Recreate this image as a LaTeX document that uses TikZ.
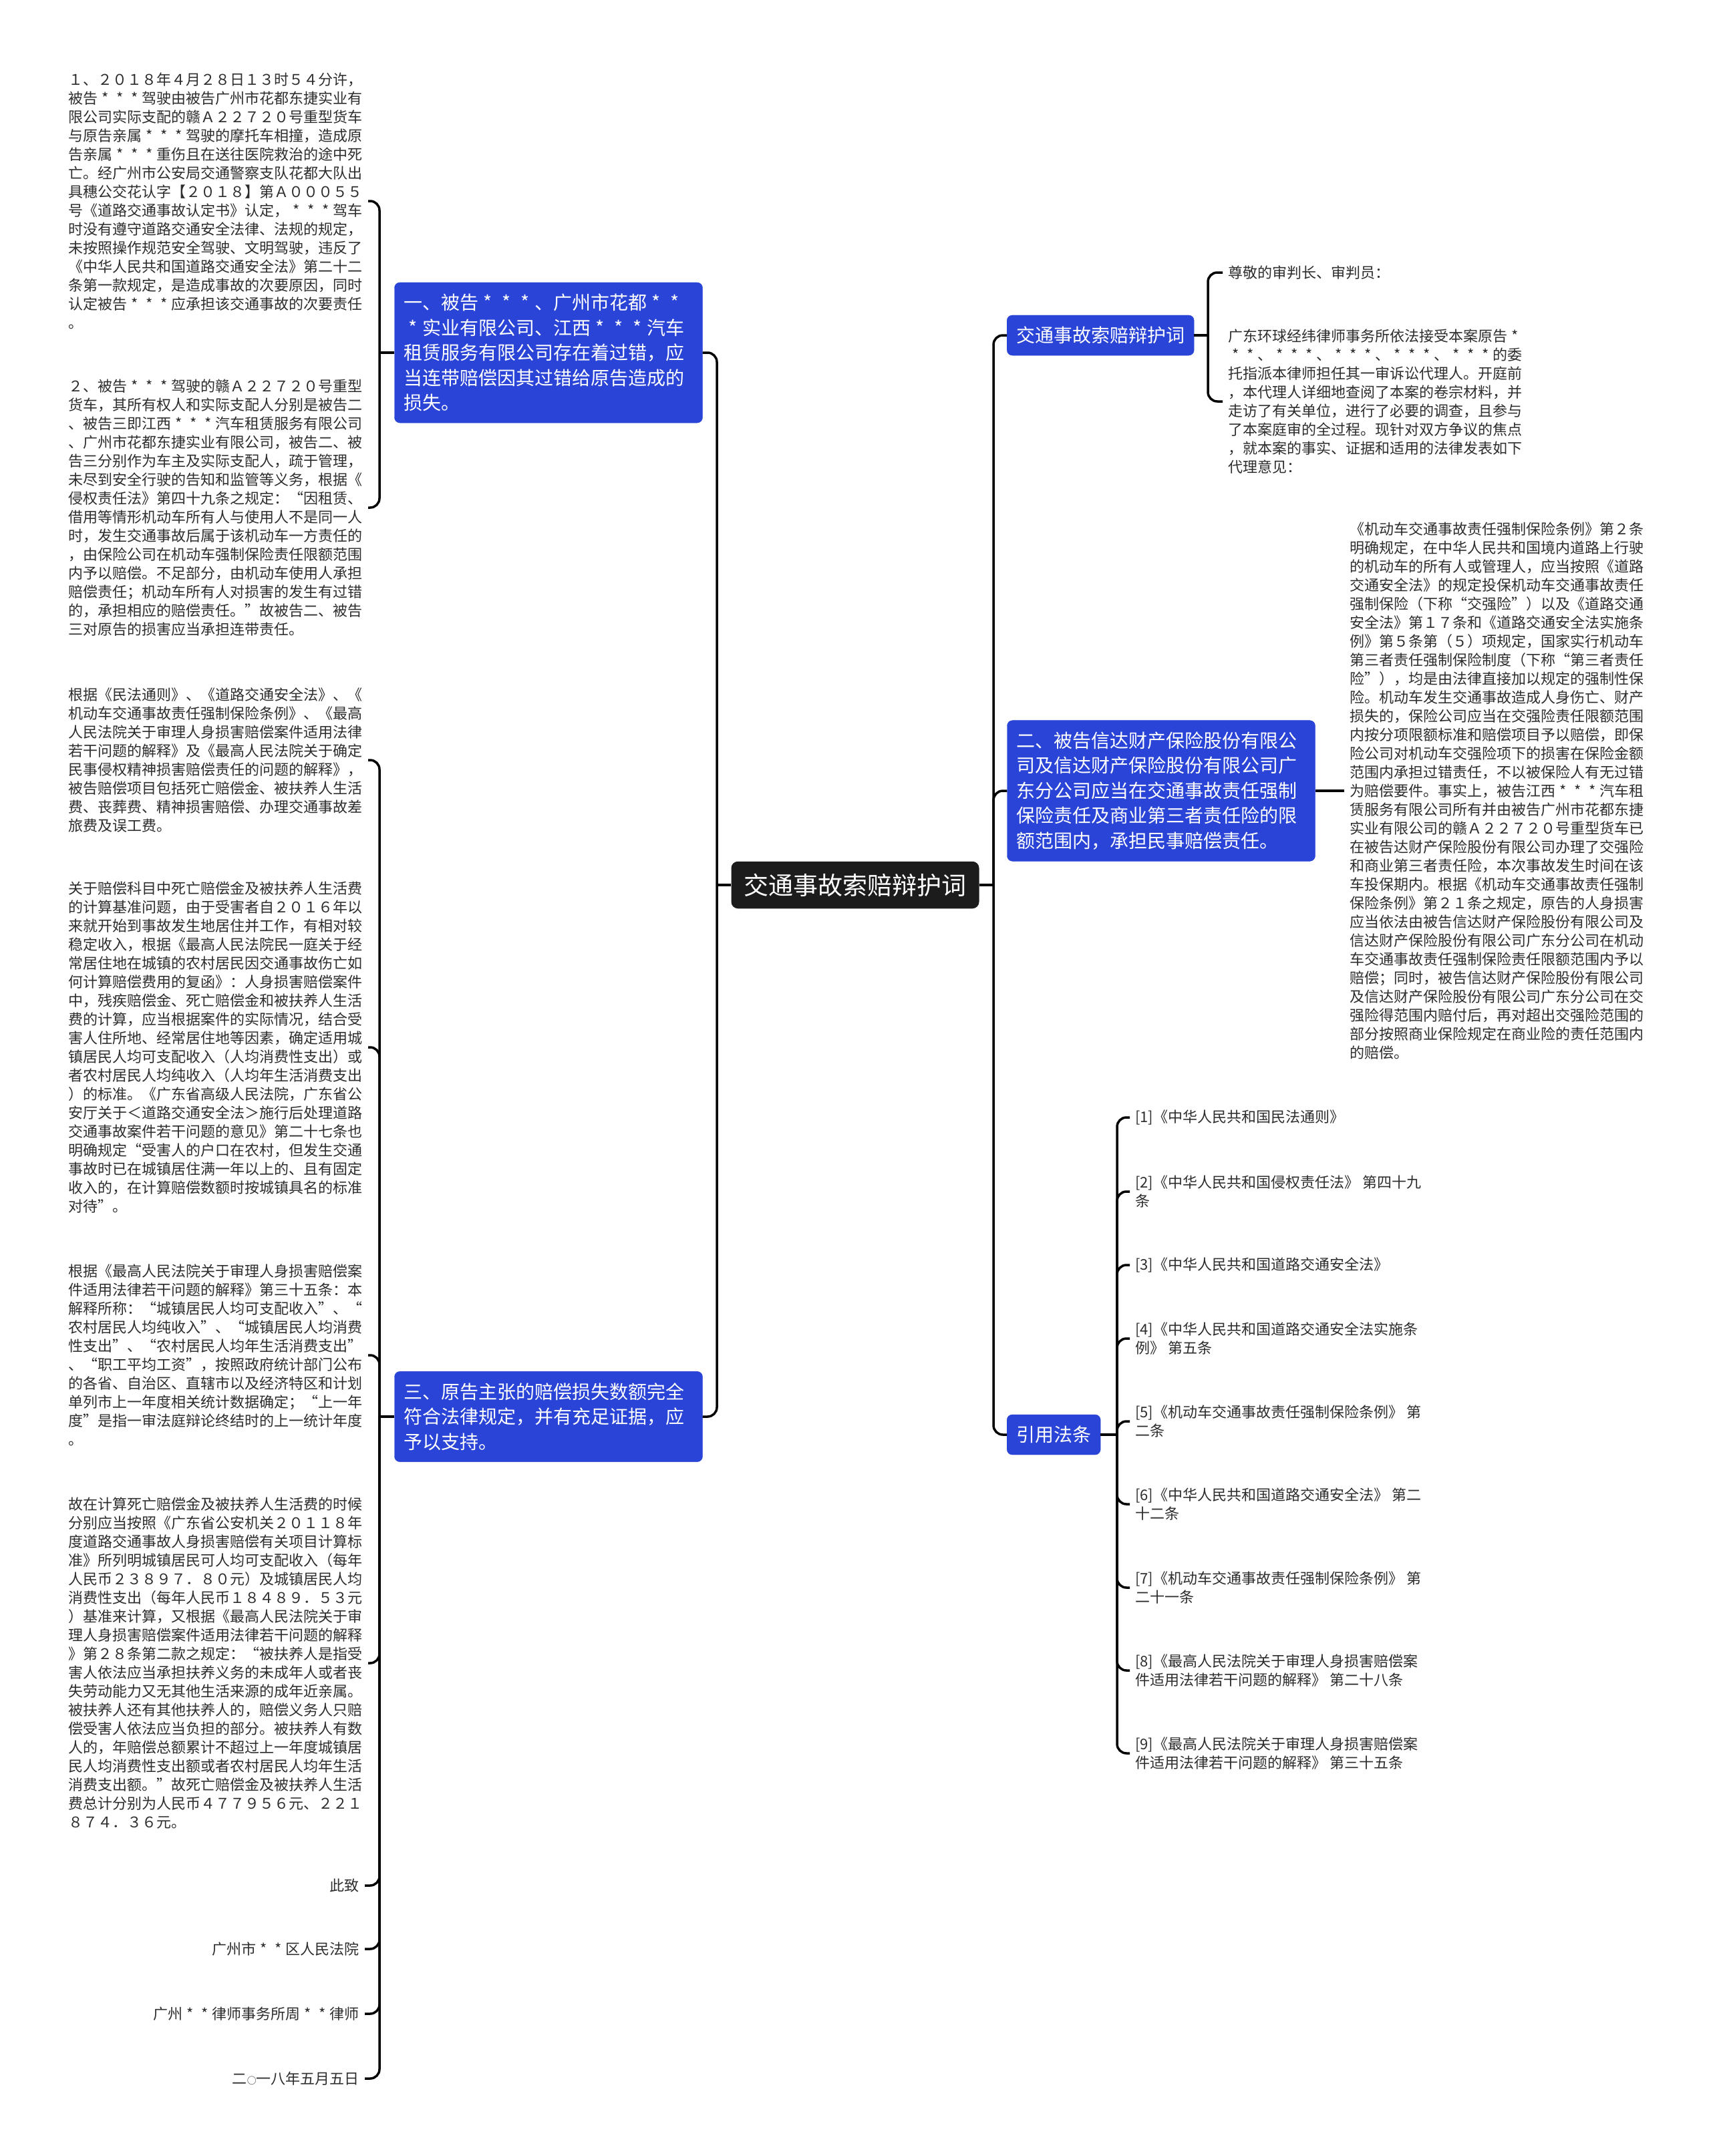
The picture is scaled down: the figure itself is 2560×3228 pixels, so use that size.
\documentclass[tikz,border=0pt]{standalone}
\usepackage{fontspec}
\newfontfamily\cjk{Noto Sans CJK SC}
\usetikzlibrary{positioning}
\definecolor{nodeblue}{RGB}{41,68,214}
\definecolor{rootblack}{RGB}{28,28,28}
\definecolor{leaftext}{RGB}{45,45,45}
\newcommand{\xing}{\makebox[1em]{*}}

\begin{document}
\begin{tikzpicture}[
  x=1pt, y=-1pt,
  root/.style={fill=rootblack, text=white, rounded corners=10pt, inner xsep=19pt, inner ysep=18pt, font=\cjk\fontsize{37}{44}\selectfont},
  branch/.style={fill=nodeblue, draw=nodeblue, text=white, rounded corners=8pt, inner xsep=14pt, inner ysep=17pt, align=left, font=\cjk\fontsize{28}{37.5}\selectfont},
  wide/.style={text width=433pt},
  leaf/.style={text=leaftext, inner xsep=8pt, inner ysep=2pt, align=left, font=\cjk\fontsize{22}{28}\selectfont},
  sign/.style={leaf, align=right, anchor=east},
  link/.style={line width=3.5pt, rounded corners=14pt}
]
\path[use as bounding box, fill=white] (0,0) rectangle (2560,3228);

% centre and branches
\node[root] (root) at (1280,1325) {交通事故索赔辩护词};
\node[branch, wide] (b1) at (821,528) {一、被告\xing{}\xing{}\xing{}、广州市花都\xing{}\xing{}\\\xing{}实业有限公司、江西\xing{}\xing{}\xing{}汽车\\租赁服务有限公司存在着过错，应\\当连带赔偿因其过错给原告造成的\\损失。};
\node[branch, wide] (b3) at (821,2121) {三、原告主张的赔偿损失数额完全\\符合法律规定，并有充足证据，应\\予以支持。};
\node[branch, anchor=west] (r1) at (1507,502) {交通事故索赔辩护词};
\node[branch, wide] (r2) at (1738,1184) {二、被告信达财产保险股份有限公\\司及信达财产保险股份有限公司广\\东分公司应当在交通事故责任强制\\保险责任及商业第三者责任险的限\\额范围内，承担民事赔偿责任。};
\node[branch, anchor=west] (r3) at (1507,2148) {引用法条};

% left leaves
\node[leaf, anchor=east] (t1) at (551,301) {１、２０１８年４月２８日１３时５４分许，\\被告\xing{}\xing{}\xing{}驾驶由被告广州市花都东捷实业有\\限公司实际支配的赣Ａ２２７２０号重型货车\\与原告亲属\xing{}\xing{}\xing{}驾驶的摩托车相撞，造成原\\告亲属\xing{}\xing{}\xing{}重伤且在送往医院救治的途中死\\亡。经广州市公安局交通警察支队花都大队出\\具穗公交花认字【２０１８】第Ａ０００５５\\号《道路交通事故认定书》认定，\xing{}\xing{}\xing{}驾车\\时没有遵守道路交通安全法律、法规的规定，\\未按照操作规范安全驾驶、文明驾驶，违反了\\《中华人民共和国道路交通安全法》第二十二\\条第一款规定，是造成事故的次要原因，同时\\认定被告\xing{}\xing{}\xing{}应承担该交通事故的次要责任\\。};
\node[leaf, anchor=east] (t2) at (551,760) {２、被告\xing{}\xing{}\xing{}驾驶的赣Ａ２２７２０号重型\\货车，其所有权人和实际支配人分别是被告二\\、被告三即江西\xing{}\xing{}\xing{}汽车租赁服务有限公司\\、广州市花都东捷实业有限公司，被告二、被\\告三分别作为车主及实际支配人，疏于管理，\\未尽到安全行驶的告知和监管等义务，根据《\\侵权责任法》第四十九条之规定：“因租赁、\\借用等情形机动车所有人与使用人不是同一人\\时，发生交通事故后属于该机动车一方责任的\\，由保险公司在机动车强制保险责任限额范围\\内予以赔偿。不足部分，由机动车使用人承担\\赔偿责任；机动车所有人对损害的发生有过错\\的，承担相应的赔偿责任。”故被告二、被告\\三对原告的损害应当承担连带责任。};
\node[leaf, anchor=east] (t3) at (551,1138) {根据《民法通则》、《道路交通安全法》、《\\机动车交通事故责任强制保险条例》、《最高\\人民法院关于审理人身损害赔偿案件适用法律\\若干问题的解释》及《最高人民法院关于确定\\民事侵权精神损害赔偿责任的问题的解释》，\\被告赔偿项目包括死亡赔偿金、被扶养人生活\\费、丧葬费、精神损害赔偿、办理交通事故差\\旅费及误工费。};
\node[leaf, anchor=east] (t4) at (551,1568) {关于赔偿科目中死亡赔偿金及被扶养人生活费\\的计算基准问题，由于受害者自２０１６年以\\来就开始到事故发生地居住并工作，有相对较\\稳定收入，根据《最高人民法院民一庭关于经\\常居住地在城镇的农村居民因交通事故伤亡如\\何计算赔偿费用的复函》：人身损害赔偿案件\\中，残疾赔偿金、死亡赔偿金和被扶养人生活\\费的计算，应当根据案件的实际情况，结合受\\害人住所地、经常居住地等因素，确定适用城\\镇居民人均可支配收入（人均消费性支出）或\\者农村居民人均纯收入（人均年生活消费支出\\）的标准。《广东省高级人民法院，广东省公\\安厅关于＜道路交通安全法＞施行后处理道路\\交通事故案件若干问题的意见》第二十七条也\\明确规定“受害人的户口在农村，但发生交通\\事故时已在城镇居住满一年以上的、且有固定\\收入的，在计算赔偿数额时按城镇具名的标准\\对待”。};
\node[leaf, anchor=east] (t5) at (551,2029) {根据《最高人民法院关于审理人身损害赔偿案\\件适用法律若干问题的解释》第三十五条：本\\解释所称：“城镇居民人均可支配收入”、“\\农村居民人均纯收入”、“城镇居民人均消费\\性支出”、“农村居民人均年生活消费支出”\\、“职工平均工资”，按照政府统计部门公布\\的各省、自治区、直辖市以及经济特区和计划\\单列市上一年度相关统计数据确定；“上一年\\度”是指一审法庭辩论终结时的上一统计年度\\。};
\node[leaf, anchor=east] (t6) at (551,2490) {故在计算死亡赔偿金及被扶养人生活费的时候\\分别应当按照《广东省公安机关２０１１８年\\度道路交通事故人身损害赔偿有关项目计算标\\准》所列明城镇居民可人均可支配收入（每年\\人民币２３８９７．８０元）及城镇居民人均\\消费性支出（每年人民币１８４８９．５３元\\）基准来计算，又根据《最高人民法院关于审\\理人身损害赔偿案件适用法律若干问题的解释\\》第２８条第二款之规定：“被扶养人是指受\\害人依法应当承担扶养义务的未成年人或者丧\\失劳动能力又无其他生活来源的成年近亲属。\\被扶养人还有其他扶养人的，赔偿义务人只赔\\偿受害人依法应当负担的部分。被扶养人有数\\人的，年赔偿总额累计不超过上一年度城镇居\\民人均消费性支出额或者农村居民人均年生活\\消费支出额。”故死亡赔偿金及被扶养人生活\\费总计分别为人民币４７７９５６元、２２１\\８７４．３６元。};
\node[sign] (s1) at (546,2823) {此致};
\node[sign] (s2) at (546,2918) {广州市\xing{}\xing{}区人民法院};
\node[sign] (s3) at (546,3015) {广州\xing{}\xing{}律师事务所周\xing{}\xing{}律师};
\node[sign] (s4) at (546,3112) {二{\fontsize{14}{28}\selectfont ○}一八年五月五日};

% right leaves
\node[leaf, anchor=west] (q1) at (1830,408) {尊敬的审判长、审判员：};
\node[leaf, anchor=west] (q2) at (1830,601) {广东环球经纬律师事务所依法接受本案原告\xing{}\\\xing{}\xing{}、\xing{}\xing{}\xing{}、\xing{}\xing{}\xing{}、\xing{}\xing{}\xing{}、\xing{}\xing{}\xing{}的委\\托指派本律师担任其一审诉讼代理人。开庭前\\，本代理人详细地查阅了本案的卷宗材料，并\\走访了有关单位，进行了必要的调查，且参与\\了本案庭审的全过程。现针对双方争议的焦点\\，就本案的事实、证据和适用的法律发表如下\\代理意见：};
\node[leaf, anchor=west] (p1) at (2012,1184) {《机动车交通事故责任强制保险条例》第２条\\明确规定，在中华人民共和国境内道路上行驶\\的机动车的所有人或管理人，应当按照《道路\\交通安全法》的规定投保机动车交通事故责任\\强制保险（下称“交强险”）以及《道路交通\\安全法》第１７条和《道路交通安全法实施条\\例》第５条第（５）项规定，国家实行机动车\\第三者责任强制保险制度（下称“第三者责任\\险”），均是由法律直接加以规定的强制性保\\险。机动车发生交通事故造成人身伤亡、财产\\损失的，保险公司应当在交强险责任限额范围\\内按分项限额标准和赔偿项目予以赔偿，即保\\险公司对机动车交强险项下的损害在保险金额\\范围内承担过错责任，不以被保险人有无过错\\为赔偿要件。事实上，被告江西\xing{}\xing{}\xing{}汽车租\\赁服务有限公司所有并由被告广州市花都东捷\\实业有限公司的赣Ａ２２７２０号重型货车已\\在被告达财产保险股份有限公司办理了交强险\\和商业第三者责任险，本次事故发生时间在该\\车投保期内。根据《机动车交通事故责任强制\\保险条例》第２１条之规定，原告的人身损害\\应当依法由被告信达财产保险股份有限公司及\\信达财产保险股份有限公司广东分公司在机动\\车交通事故责任强制保险责任限额范围内予以\\赔偿；同时，被告信达财产保险股份有限公司\\及信达财产保险股份有限公司广东分公司在交\\强险得范围内赔付后，再对超出交强险范围的\\部分按照商业保险规定在商业险的责任范围内\\的赔偿。};
\node[leaf, anchor=west] (f1) at (1691,1673) {[1]《中华人民共和国民法通则》};
\node[leaf, anchor=west] (f2) at (1691,1784) {[2]《中华人民共和国侵权责任法》 第四十九\\条};
\node[leaf, anchor=west] (f3) at (1691,1894) {[3]《中华人民共和国道路交通安全法》};
\node[leaf, anchor=west] (f4) at (1691,2004) {[4]《中华人民共和国道路交通安全法实施条\\例》 第五条};
\node[leaf, anchor=west] (f5) at (1691,2128) {[5]《机动车交通事故责任强制保险条例》 第\\二条};
\node[leaf, anchor=west] (f6) at (1691,2252) {[6]《中华人民共和国道路交通安全法》 第二\\十二条};
\node[leaf, anchor=west] (f7) at (1691,2377) {[7]《机动车交通事故责任强制保险条例》 第\\二十一条};
\node[leaf, anchor=west] (f8) at (1691,2501) {[8]《最高人民法院关于审理人身损害赔偿案\\件适用法律若干问题的解释》 第二十八条};
\node[leaf, anchor=west] (f9) at (1691,2625) {[9]《最高人民法院关于审理人身损害赔偿案\\件适用法律若干问题的解释》 第三十五条};

% connectors
\coordinate (jl) at (1073,1325);
\coordinate (jr) at (1487,1325);
\coordinate (j1) at (568,528);
\coordinate (j3) at (568,2121);
\coordinate (jq) at (1808,502);
\coordinate (jf) at (1672,2148);

\draw[link] (root.west) -- (jl);
\foreach \n in {b1,b3} \draw[link] (jl) |- (\n.east);
\draw[link] (root.east) -- (jr);
\foreach \n in {r1,r2,r3} \draw[link] (jr) |- (\n.west);
\draw[link] (b1.west) -- (j1);
\foreach \n in {t1,t2} \draw[link] (j1) |- (\n.east);
\draw[link] (b3.west) -- (j3);
\foreach \n in {t3,t4,t5,t6,s1,s2,s3,s4} \draw[link] (j3) |- (\n.east);
\draw[link] (r1.east) -- (jq);
\foreach \n in {q1,q2} \draw[link] (jq) |- (\n.west);
\draw[link] (r2.east) -- (p1.west);
\draw[link] (r3.east) -- (jf);
\foreach \i in {1,...,9} \draw[link] (jf) |- (f\i.west);
\end{tikzpicture}
\end{document}
